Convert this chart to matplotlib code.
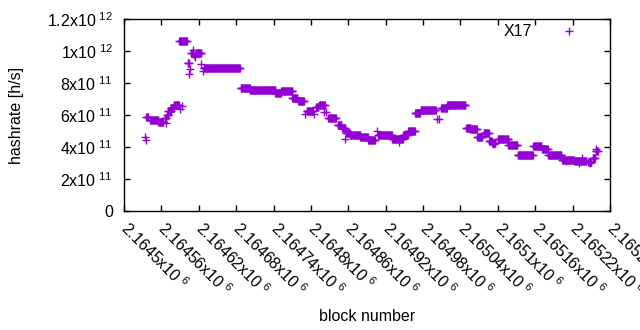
import numpy as np
import matplotlib
matplotlib.use("Agg")
from matplotlib import pyplot as plt

plt.rcParams['font.family'] = ['Liberation Sans', 'DejaVu Sans']
plt.rcParams['mathtext.fontset'] = 'custom'
plt.rcParams['mathtext.rm'] = 'Liberation Sans'
plt.rcParams['mathtext.default'] = 'regular'

PURPLE = '#9400d3'
BLOCK0 = 2164500

# plateaus: block offset from BLOCK0 (start, end) and hashrate in units of 1e11 h/s
seg_start = [36, 42, 55, 66, 69, 71, 75, 80, 89, 102, 108, 115, 128, 187, 202, 243,
             252, 270, 280, 293, 308, 313, 328, 343, 350, 357, 363, 379, 392, 408,
             430, 448, 456, 467, 476, 509, 519, 549, 556, 567, 577, 586, 591, 600,
             617, 632, 657, 671, 681, 703, 723, 745, 752, 757]
seg_end = [39, 55, 63, 68, 71, 75, 80, 88, 101, 104, 110, 124, 186, 202, 243, 252,
           270, 278, 289, 303, 312, 322, 340, 349, 355, 362, 379, 391, 403, 430,
           447, 455, 467, 475, 500, 518, 548, 556, 566, 575, 585, 590, 596, 617,
           631, 656, 670, 680, 702, 722, 742, 750, 756, 760]
seg_rate = [5.85, 5.69, 5.58, 5.8, 6.0, 6.25, 6.45, 6.6, 10.6, 9.23, 9.87, 9.85, 8.92,
            7.67, 7.56, 7.36, 7.47, 7.08, 6.87, 6.22, 6.52, 6.62, 5.82, 5.38, 5.19,
            4.87, 4.77, 4.64, 4.44, 4.74, 4.5, 4.75, 5.03, 6.12, 6.3, 6.46, 6.64,
            5.2, 5.1, 4.62, 4.9, 4.4, 4.25, 4.48, 4.1, 3.5, 4.06, 3.85, 3.52, 3.2,
            3.12, 3.05, 3.3, 3.75]

# single outlying blocks
stray_block = [34, 35, 67, 90, 93, 104, 106, 110, 112, 114, 124, 127, 291, 305, 321,
               324, 355, 406, 441, 502, 505, 594, 710, 730, 735, 748, 758]
stray_rate = [4.6, 4.44, 5.5, 6.4, 6.55, 8.54, 8.87, 10.06, 9.75, 9.64, 9.2, 8.77,
              6.06, 6.05, 6.19, 6.2, 4.5, 5.03, 4.3, 5.73, 5.73, 4.2, 3.1, 3.0, 3.3,
              2.98, 3.9]

y_ticks = [0, 2e11, 4e11, 6e11, 8e11, 1e12, 1.2e12]
y_labels = ['0', r'2x10$^{\ 11}$', r'4x10$^{\ 11}$', r'6x10$^{\ 11}$', r'8x10$^{\ 11}$',
            r'1x10$^{\ 12}$', r'1.2x10$^{\ 12}$']

blocks = []
rates = []
for s, e, r in zip(seg_start, seg_end, seg_rate):
    for b in range(s, e + 1):
        blocks.append(BLOCK0 + b)
        rates.append(r * 1e11)
for b, r in zip(stray_block, stray_rate):
    blocks.append(BLOCK0 + b)
    rates.append(r * 1e11)

fig = plt.figure(figsize=(6.4, 3.3), dpi=100)
ax = fig.add_axes([124 / 640, 1 - 211 / 330, 486 / 640, 192 / 330])

ax.plot(blocks, rates, linestyle='none', marker='+', markersize=5.5,
        markeredgewidth=1.0, color=PURPLE, label='X17')

ax.set_xlim(2164500, 2165280)
ax.set_ylim(0, 1.2e12)

x_ticks = np.arange(2164500, 2165281, 60)
ax.set_xticks(x_ticks)
ax.set_xticklabels([r'%gx10$^{\ 6}$' % (v / 1e6) for v in x_ticks],
                   rotation=-45, ha='left', va='center', rotation_mode='anchor')
ax.set_yticks(y_ticks)
ax.set_yticklabels(y_labels)

ax.tick_params(direction='in', length=4, width=1, top=True, right=True,
               labelsize=11.5, colors='black')
ax.tick_params(axis='x', pad=10)
ax.tick_params(axis='y', pad=8)
for sp in ax.spines.values():
    sp.set_linewidth(1)

ax.set_xlabel('block number', fontsize=11.5)
ax.xaxis.set_label_coords(0.5, -0.51)
ax.set_ylabel('hashrate [h/s]', fontsize=11.5)
ax.yaxis.set_label_coords(-0.205, 0.5)

ax.legend(loc='upper right', bbox_to_anchor=(0.948, 0.972), frameon=False,
          markerfirst=False, fontsize=11.5, handlelength=2.0, handletextpad=1.3,
          borderpad=0, borderaxespad=0)

fig.savefig('out.png', dpi=100)
